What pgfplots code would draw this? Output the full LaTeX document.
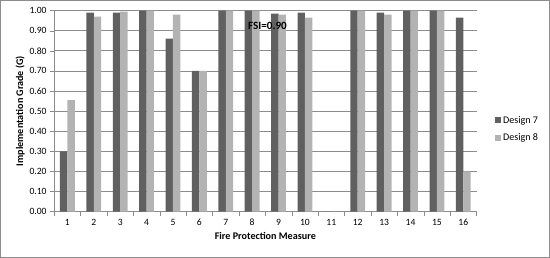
\documentclass[border=0pt]{standalone}
\usepackage{fontspec}
\setmainfont{Carlito}
\usepackage{pgfplots}
\pgfplotsset{compat=1.18}

\definecolor{dsev}{HTML}{606060}
\definecolor{deig}{HTML}{B3B3B3}
\definecolor{gridc}{HTML}{8C8C8C}

\begin{document}
\begin{tikzpicture}
\begin{axis}[
    name=ax,
    scale only axis,
    width=416bp, height=198bp,
    ybar=0pt, bar width=7.3bp,
    xmin=0.5, xmax=16.5,
    ymin=0, ymax=1,
    axis x line=bottom, axis y line=left,
    axis line style={-, gridc},
    xtick={1,...,16},
    minor xtick={0.5,1.5,...,16.5},
    major x tick style={draw=none},
    minor x tick style={gridc},
    ytick={0,0.1,...,1.0},
    y tick style={gridc},
    tick align=outside,
    major tick length=4bp, minor tick length=4bp,
    ymajorgrids=true,
    grid style={gridc, line width=0.6pt},
    yticklabel style={/pgf/number format/.cd, fixed, fixed zerofill, precision=2},
    /pgf/number format/assume math mode=true,
    ticklabel style={font=\fontsize{9.5}{10}\selectfont},
    xlabel={\textbf{Fire Protection Measure}},
    ylabel={\textbf{Implementation Grade (G)}},
    label style={font=\fontsize{10}{11}\selectfont},
    xlabel style={yshift=0bp},
    ylabel style={yshift=-2bp},
    legend style={at={(1.036,0.41)}, anchor=west, draw=none, fill=none,
        font=\fontsize{10}{11}\selectfont, row sep=5bp},
    legend image code/.code={\fill[#1] (0bp,-3bp) rectangle (6bp,3bp);},
    legend cell align=left,
]
\addplot[fill=dsev, draw=none] coordinates {
 (1,0.30)(2,0.99)(3,0.99)(4,1.00)(5,0.86)(6,0.70)(7,1.00)(8,1.00)
 (9,0.985)(10,0.99)(11,0)(12,1.00)(13,0.99)(14,1.00)(15,1.00)(16,0.965)};
\addplot[fill=deig, draw=none] coordinates {
 (1,0.555)(2,0.97)(3,0.995)(4,1.00)(5,0.98)(6,0.70)(7,1.00)(8,1.00)
 (9,0.98)(10,0.965)(11,0)(12,1.00)(13,0.98)(14,1.00)(15,1.00)(16,0.20)};
\legend{Design 7, Design 8}
\node[font=\bfseries\fontsize{11}{12}\selectfont] at (axis cs:8.58,0.924) {FSI=0.90};
\end{axis}
\draw[gridc, line width=0.8pt] ([shift={(-53bp,-45bp)}]ax.south west) rectangle ([shift={(72bp,10bp)}]ax.north east);
\end{tikzpicture}
\end{document}
